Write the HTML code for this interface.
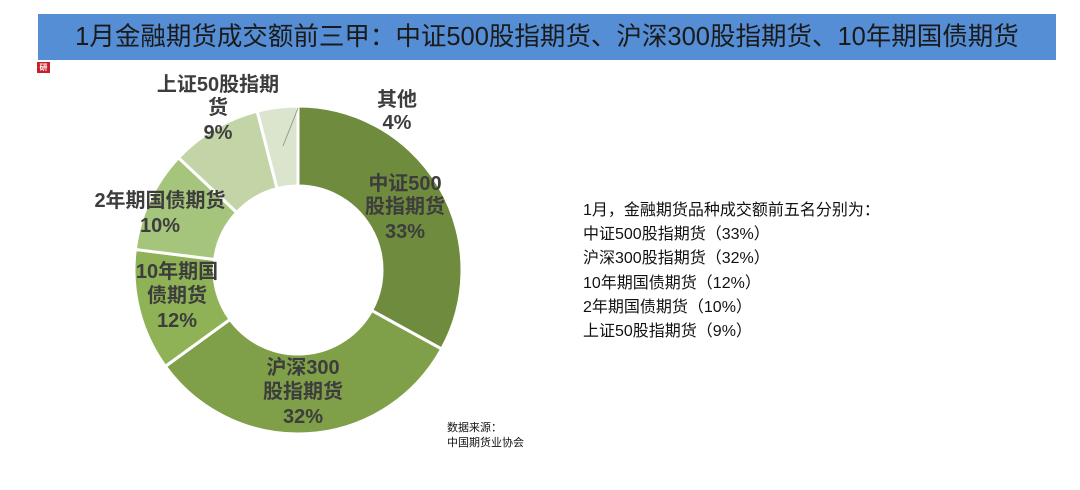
<!DOCTYPE html>
<html><head><meta charset="utf-8"><style>
body{margin:0;width:1080px;height:490px;background:#fff;position:relative;overflow:hidden;font-family:"Liberation Sans","Noto Sans CJK SC",sans-serif}
.bar{position:absolute;left:38px;top:14px;width:1018px;height:46px;background:#558ed5;color:#1a1a1a;font-size:25.5px;line-height:46px;text-align:center}
.ic{position:absolute;left:37px;top:62px;width:13px;height:11px;background:#c8202a;color:#fff;font-size:8px;line-height:11px;text-align:center;font-weight:bold}
.list{position:absolute;left:583px;top:199px;font-size:16px;line-height:24.2px;color:#111}
.src{position:absolute;left:447px;top:421px;font-size:11px;line-height:15px;color:#111}
</style></head><body>
<div class="bar">1月金融期货成交额前三甲：中证500股指期货、沪深300股指期货、10年期国债期货</div>
<div class="ic">研</div>
<svg width="1080" height="490" style="position:absolute;left:0;top:0">
<g id="segs" stroke="#fff" stroke-width="3"></g>
<line x1="298" y1="108" x2="283" y2="146" stroke="#999" stroke-width="1"/>
<g font-family="Liberation Sans,Noto Sans CJK SC,sans-serif" font-weight="bold" font-size="20" fill="#3d3d3d" text-anchor="middle">
<text x="405" y="190">中证500</text><text x="405" y="213">股指期货</text><text x="405" y="238">33%</text>
<text x="303" y="374">沪深300</text><text x="303" y="398">股指期货</text><text x="303" y="423">32%</text>
<text x="177" y="278">10年期国</text><text x="177" y="302">债期货</text><text x="177" y="327">12%</text>
<text x="160" y="207">2年期国债期货</text><text x="160" y="232">10%</text>
<text x="218" y="91">上证50股指期</text><text x="218" y="114">货</text><text x="218" y="139">9%</text>
<text x="397" y="106">其他</text><text x="397" y="129">4%</text>
</g>
</svg>
<script>
(function(){var cx=298,cy=270,R=164,r=84,d=[33,32,12,10,9,4],c=["#6f8b3d","#7f9f48","#90b256","#a6c57c","#c3d5a7","#dbe4cd"],g=document.getElementById('segs'),a=0;
function pt(rad,ang){var t=ang*Math.PI/180;return [cx+rad*Math.sin(t),cy-rad*Math.cos(t)];}
for(var i=0;i<d.length;i++){var b=a+d[i]*3.6,l=(b-a)>180?1:0,p1=pt(R,a),p2=pt(R,b),p3=pt(r,b),p4=pt(r,a);
var s="M"+p1+"A"+R+","+R+" 0 "+l+" 1 "+p2+"L"+p3+"A"+r+","+r+" 0 "+l+" 0 "+p4+"Z";
var e=document.createElementNS("http://www.w3.org/2000/svg","path");e.setAttribute("d",s);e.setAttribute("fill",c[i]);g.appendChild(e);a=b;}})();
</script>
<div class="list">1月，金融期货品种成交额前五名分别为：<br>中证500股指期货（33%）<br>沪深300股指期货（32%）<br>10年期国债期货（12%）<br>2年期国债期货（10%）<br>上证50股指期货（9%）</div>
<div class="src">数据来源：<br>中国期货业协会</div>
</body></html>
